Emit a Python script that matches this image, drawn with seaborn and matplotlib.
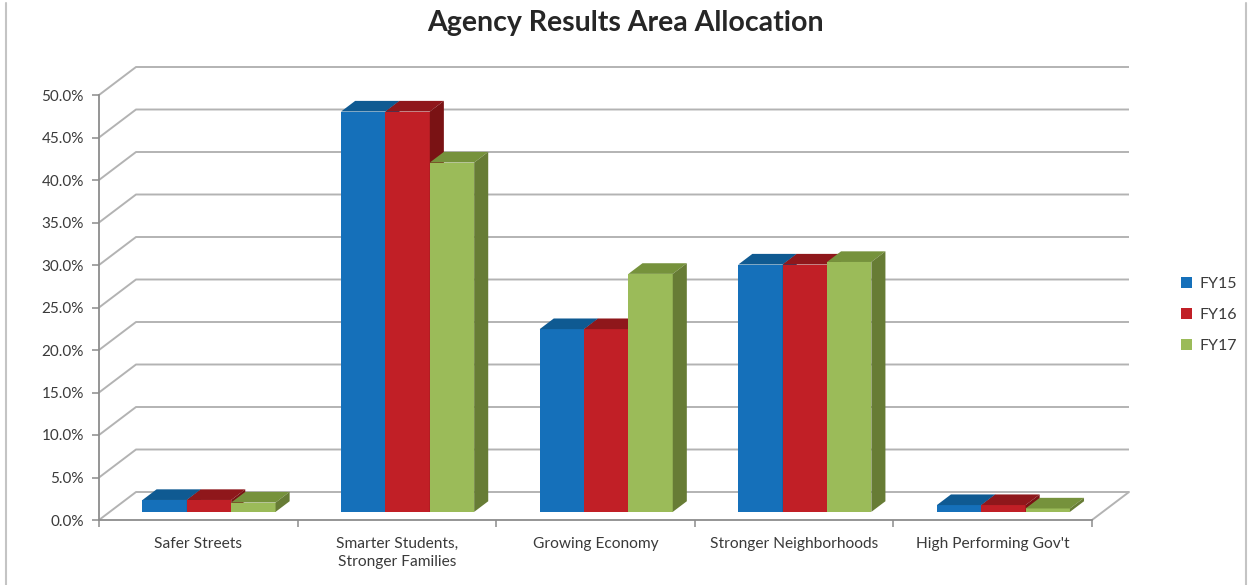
import numpy as np
import pandas as pd
import matplotlib
matplotlib.use("Agg")
import matplotlib.pyplot as plt
import matplotlib.transforms as mtransforms
from matplotlib.colors import to_rgba
from matplotlib.patches import Polygon, Patch
from matplotlib.lines import Line2D
import seaborn as sns

# ---- data -------------------------------------------------------------
categories = ["Safer Streets", "Smarter Students,\nStronger Families",
              "Growing Economy", "Stronger Neighborhoods", "High Performing Gov't"]
years = ["FY15", "FY16", "FY17"]
fy15 = [1.4, 47.1, 21.5, 29.1, 0.8]
fy16 = [1.4, 47.1, 21.5, 29.1, 0.8]
fy17 = [1.1, 41.1, 28.0, 29.4, 0.4]
y_ticks = [0, 5, 10, 15, 20, 25, 30, 35, 40, 45, 50]
title = "Agency Results Area Allocation"

df = pd.DataFrame({
    "category": categories * 3,
    "year": [y for y in years for _ in categories],
    "value": fy15 + fy16 + fy17,
})

# ---- styling ----------------------------------------------------------
front = {"FY15": "#1570BA", "FY16": "#C11F26", "FY17": "#9BBB59"}
top_c = {"FY15": "#0F5A92", "FY16": "#8F171B", "FY17": "#76923C"}
side_c = {"FY15": "#0D4E80", "FY16": "#7A1214", "FY17": "#677C35"}
grid_col = "#B3B3B3"
axis_col = "#8C8C8C"
text_col = "#3A3A3A"

sns.set_theme(style="white")
plt.rcParams["font.family"] = ["Lato", "DejaVu Sans"]

W, H, DPI = 1248, 585, 100
fig = plt.figure(figsize=(W / DPI, H / DPI), dpi=DPI)
# axes box = front plane of the 3-D floor/axis
ax_l, ax_b, ax_w, ax_h = 99, 65, 993, 425
ax = fig.add_axes([ax_l / W, ax_b / H, ax_w / W, ax_h / H])
ax.patch.set_alpha(0)

sns.barplot(data=df, x="category", y="value", hue="year", palette=front,
            hue_order=years, order=categories, width=0.67, saturation=1,
            linewidth=0, legend=False, ax=ax)
ax.set_xlim(-0.5, len(categories) - 0.5)
ax.set_ylim(0, 50)

# pixel -> data conversions
px_x = (len(categories)) / ax_w
px_y = 50 / ax_h
WALL_X, WALL_Y = 37, 28          # depth of the floor / wall in px
Dx, Dy = WALL_X * px_x, WALL_Y * px_y
f0, fd = 0.29, 0.38             # bar front plane and bar depth, fraction of wall depth

# back wall gridlines and floor
x_lo, x_hi = -0.5, len(categories) - 0.5
for v in y_ticks:
    ax.plot([x_lo, x_lo + Dx, x_hi + Dx], [v, v + Dy, v + Dy], color=grid_col,
            lw=1.4, clip_on=False, zorder=1, solid_capstyle="butt")
ax.plot([x_hi, x_hi + Dx], [0, Dy], color=grid_col, lw=1.4, clip_on=False, zorder=1)

# push bars into the depth and add top / side faces
bar_off = mtransforms.ScaledTranslation(f0 * WALL_X / DPI, f0 * WALL_Y / DPI,
                                        fig.dpi_scale_trans)
bar_tr = ax.transData + bar_off
bdx, bdy = fd * WALL_X * px_x, fd * WALL_Y * px_y
bars = list(ax.patches)
for p in bars:
    fc = p.get_facecolor()
    k = min(range(len(years)),
            key=lambda i: np.sum(np.abs(np.array(to_rgba(front[years[i]])) - np.array(fc))))
    yr = years[k]
    z = 3 + 0.1 * k
    p.set_transform(bar_tr)
    p.set_zorder(z)
    p.set_clip_on(False)
    x0, w, h = p.get_x(), p.get_width(), p.get_height()
    top = Polygon([(x0, h), (x0 + w, h), (x0 + w + bdx, h + bdy), (x0 + bdx, h + bdy)],
                  closed=True, facecolor=top_c[yr], edgecolor="none",
                  transform=bar_tr, zorder=z + 0.01, clip_on=False)
    side = Polygon([(x0 + w, 0), (x0 + w, h), (x0 + w + bdx, h + bdy), (x0 + w + bdx, bdy)],
                   closed=True, facecolor=side_c[yr], edgecolor="none",
                   transform=bar_tr, zorder=z + 0.02, clip_on=False)
    ax.add_patch(top)
    ax.add_patch(side)

# front axis lines
for s in ["top", "right"]:
    ax.spines[s].set_visible(False)
for s in ["left", "bottom"]:
    ax.spines[s].set_color(axis_col)
    ax.spines[s].set_linewidth(1.3)
    ax.spines[s].set_zorder(2)

ax.set_yticks(y_ticks)
ax.set_yticklabels([f"{v:.1f}%" for v in y_ticks])
ax.tick_params(axis="y", which="major", left=True, length=5, width=1.1,
               color=axis_col, direction="out", pad=6, labelsize=11,
               labelcolor=text_col)
ax.set_xticks(range(len(categories)))
ax.set_xticklabels(categories, linespacing=1.35)
ax.set_xticks(np.arange(-0.5, len(categories)), minor=True)
ax.tick_params(axis="x", which="major", bottom=True, length=0, pad=12,
               labelsize=11.2, labelcolor=text_col)
ax.tick_params(axis="x", which="minor", bottom=True, length=5, width=1.1,
               color=axis_col, direction="out")
ax.set_xlabel("")
ax.set_ylabel("")
ax.grid(False)

# title
fig.text(0.501, 1 - 23 / H, title, ha="center", va="center", fontsize=20.5,
         fontweight="bold", color="#262626")

# legend
handles = [Patch(facecolor=front[y], edgecolor="none") for y in years]
fig.legend(handles, years, loc="center left", bbox_to_anchor=(1181 / W, 1 - 315 / H),
           frameon=False, fontsize=11.5, handlelength=0.7, handleheight=0.7,
           handletextpad=0.45, labelspacing=1.05, borderpad=0, borderaxespad=0,
           labelcolor=text_col)

# chart frame edges
for xp in (6, 1246):
    fig.add_artist(Line2D([xp / W, xp / W], [0, 1 - 3 / H], transform=fig.transFigure,
                          color="#C4C4C4", lw=1.5))

fig.savefig("out.png", dpi=DPI)
